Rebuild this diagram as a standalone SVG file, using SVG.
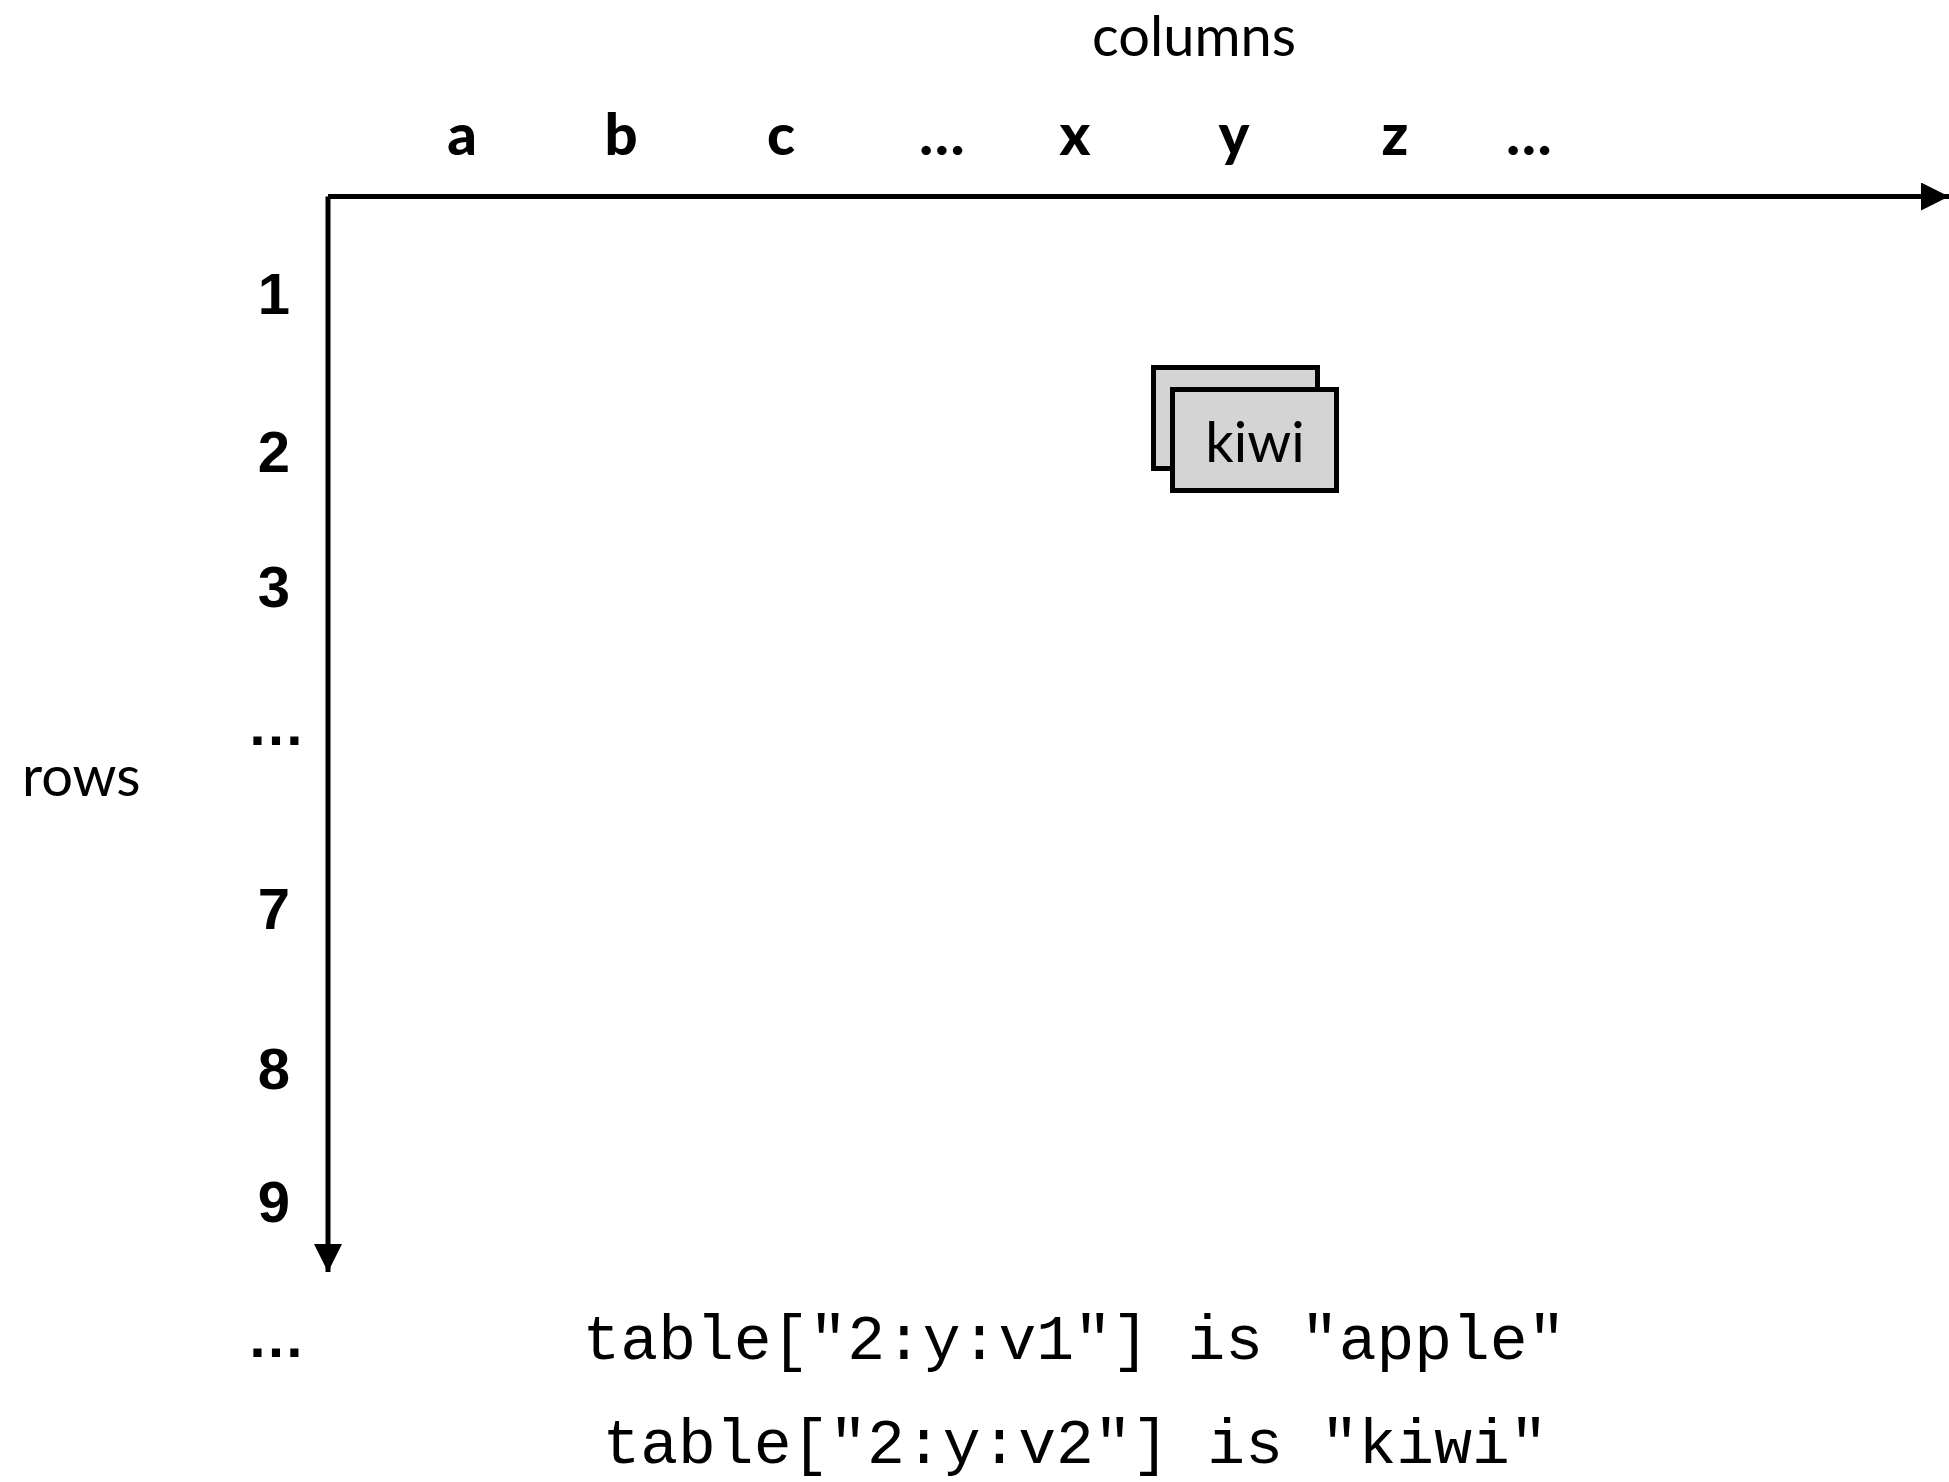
<svg xmlns="http://www.w3.org/2000/svg" width="1949" height="1482" viewBox="0 0 1949 1482">
<style>
.lab{font-family:Lato,"Open Sans","Liberation Sans",sans-serif;font-size:56px;fill:#000}
.col{font-family:Lato,"Liberation Sans",sans-serif;font-size:58px;font-weight:900;fill:#000;text-anchor:middle}
.row{font-family:"Liberation Sans",Arial,sans-serif;font-size:58px;font-weight:bold;fill:#000;text-anchor:middle}
.mono{font-family:"Liberation Mono","Courier New",monospace;font-size:63px;fill:#000;text-anchor:middle}
.axis{stroke:#000;stroke-width:5;fill:none}
.cell{fill:#d4d4d4;stroke:#000;stroke-width:5}
</style>
<defs>
<marker id="arr" markerUnits="userSpaceOnUse" markerWidth="30" markerHeight="30" refX="28" refY="14" orient="auto">
<path d="M0,0 L28,14 L0,28 Z" fill="#000"/>
</marker>
</defs>
<rect width="1949" height="1482" fill="#fff"/>
<g id="connectors">
<path class="axis" d="M328,196.5 H1949" marker-end="url(#arr)"/>
<path class="axis" d="M328,196.5 V1272" marker-end="url(#arr)"/>
</g>
<g id="titles">
<text class="lab" x="1194" y="56" text-anchor="middle">columns</text>
<text class="lab" x="22" y="796">rows</text>
</g>
<g id="column-labels">
<text class="col" x="462" y="155">a</text>
<text class="col" x="621" y="155">b</text>
<text class="col" x="781" y="155">c</text>
<text class="col" x="942" y="155">…</text>
<text class="col" x="1075" y="155">x</text>
<text class="col" x="1234" y="155">y</text>
<text class="col" x="1395" y="155">z</text>
<text class="col" x="1529" y="155">…</text>
</g>
<g id="row-labels">
<text class="row" x="274" y="314">1</text>
<text class="row" x="274" y="472">2</text>
<text class="row" x="274" y="607">3</text>
<text class="row" x="276" y="745">…</text>
<text class="row" x="274" y="929">7</text>
<text class="row" x="274" y="1089">8</text>
<text class="row" x="274" y="1222">9</text>
<text class="row" x="276" y="1357">…</text>
</g>
<g id="cell-2y">
<rect class="cell" x="1153.5" y="367.5" width="164" height="101"/>
<rect class="cell" x="1172.5" y="389.5" width="164" height="101"/>
<text class="lab" x="1255" y="462" text-anchor="middle">kiwi</text>
</g>
<g id="code">
<text class="mono" x="1074" y="1359">table["2:y:v1"] is "apple"</text>
<text class="mono" x="1075" y="1463">table["2:y:v2"] is "kiwi"</text>
</g>
</svg>
